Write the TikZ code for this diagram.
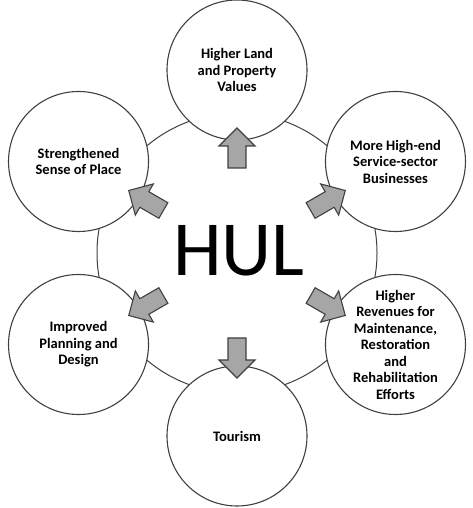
\documentclass[tikz,border=0pt]{standalone}
\usepackage{fontspec}
\setmainfont{Carlito}
\usetikzlibrary{calc}
\definecolor{linegray}{HTML}{404040}
\definecolor{arrowgray}{HTML}{A6A6A6}
\tikzset{
  ring/.style={draw=linegray, line width=1pt},
  bubble/.style={circle, draw=linegray, line width=1.1pt, fill=white, minimum size=140pt, inner sep=0pt, align=center,
    font=\bfseries\fontsize{14.5}{16.5}\selectfont, text=black},
  blockarrow/.style={draw=linegray, line width=1.1pt, fill=arrowgray, line join=miter},
}
\begin{document}
\begin{tikzpicture}[x=1pt,y=1pt]
\useasboundingbox (0,0) rectangle (473,508);
\coordinate (c) at (237,255);
\draw[ring] (c) circle (140);
\node[bubble] (top) at ($(c)+(90:183)$) {Higher Land\\and Property\\Values};
\node[bubble] (rt) at ($(c)+(30:183)$) {More High-end\\Service-sector\\Businesses};
\node[bubble] (rb) at ($(c)+(-30:183)$) {Higher\\Revenues for\\Maintenance,\\Restoration\\and\\Rehabilitation\\Efforts};
\node[bubble] (bot) at ($(c)+(-90:183)$) {Tourism};
\node[bubble] (lb) at ($(c)+(210:183)$) {Improved\\Planning and\\Design};
\node[bubble] (lt) at ($(c)+(150:183)$) {Strengthened\\Sense of Place};
\node[font=\fontsize{78}{78}\selectfont, inner sep=0pt] (hul) at (239,257) {HUL};
\foreach \a in {90,30,-30,-90,210,150}{
  \begin{scope}[shift={(c)}, rotate=\a]
    \draw[blockarrow] (85,-9) -- (107,-9) -- (107,-18) -- (125,0) -- (107,18) -- (107,9) -- (85,9) -- cycle;
  \end{scope}
}
\end{tikzpicture}
\end{document}
